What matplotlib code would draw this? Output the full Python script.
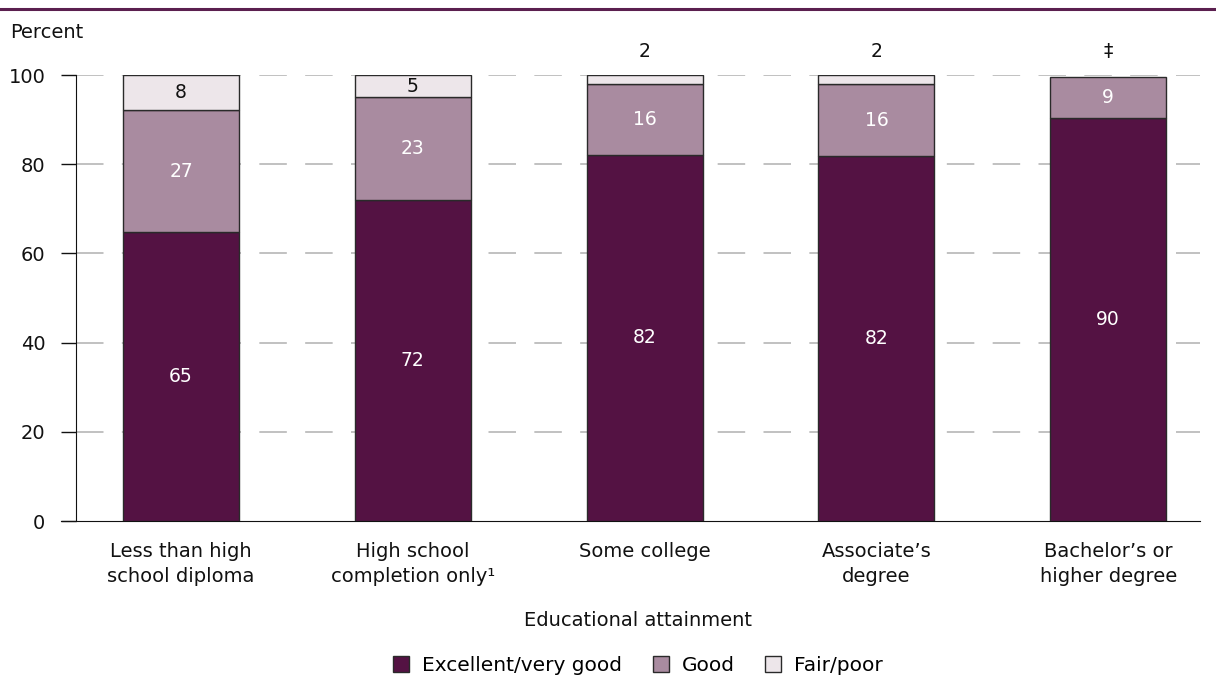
import numpy as np
import matplotlib.pyplot as plt
from matplotlib.lines import Line2D
from matplotlib.patches import Patch

plt.rcParams['font.family'] = ['DejaVu Sans']

categories = ["Less than high\nschool diploma", "High school\ncompletion only\u00b9",
              "Some college", "Associate\u2019s\ndegree", "Bachelor\u2019s or\nhigher degree"]
excellent = [64.8, 71.9, 82.1, 81.9, 90.4]
good = [27.3, 23.1, 15.8, 16.0, 9.2]
fair = [7.9, 5.0, 2.1, 2.1, 0.0]
excellent_lbl = ["65", "72", "82", "82", "90"]
good_lbl = ["27", "23", "16", "16", "9"]
fair_lbl = ["8", "5", "2", "2", "\u2021"]

c_exc = "#541243"
c_good = "#a98ba0"
c_fair = "#ede6ea"
edge = "#2a2a2a"
txt = "#111111"

fig = plt.figure(figsize=(12.16, 6.77), dpi=100)
ax = fig.add_axes([0.0625, 0.2304, 0.9245, 0.6588])

x = np.arange(len(categories))
w = 0.5
ax.bar(x, excellent, w, color=c_exc, edgecolor=edge, linewidth=1, zorder=3)
ax.bar(x, good, w, bottom=excellent, color=c_good, edgecolor=edge, linewidth=1, zorder=3)
bot2 = np.array(excellent) + np.array(good)
for i in range(len(x)):
    if fair[i] > 0:
        ax.bar(x[i], fair[i], w, bottom=bot2[i], color=c_fair, edgecolor=edge,
               linewidth=1, zorder=3)

fs = 14
for i in range(len(x)):
    ax.text(x[i], excellent[i] / 2, excellent_lbl[i], ha="center", va="center",
            color="white", fontsize=13.5, zorder=4)
    ax.text(x[i], excellent[i] + good[i] / 2, good_lbl[i], ha="center", va="center",
            color="white", fontsize=13.5, zorder=4)
    if fair[i] >= 4:
        ax.text(x[i], bot2[i] + fair[i] / 2, fair_lbl[i], ha="center", va="center",
                color=txt, fontsize=13.5, zorder=4)
    else:
        ax.text(x[i], 103.2, fair_lbl[i], ha="center", va="bottom",
                color=txt, fontsize=13.5, zorder=4, clip_on=False)

ax.set_ylim(0, 100)
ax.set_xlim(-0.453, 4.397)
ax.set_yticks([0, 20, 40, 60, 80, 100])
for yv in [20, 40, 60, 80, 100]:
    ax.axhline(yv, color="#b0b0b0", linewidth=1.1, linestyle=(0, (18, 12)), zorder=1)

ax.set_xticks(x)
ax.set_xticklabels(categories, fontsize=fs, color=txt, linespacing=1.4)
ax.tick_params(axis="x", length=0, pad=15)
ax.tick_params(axis="y", length=11, width=1, color=txt, labelsize=fs,
               labelcolor=txt, pad=11)
for s in ["top", "right"]:
    ax.spines[s].set_visible(False)
ax.spines["left"].set_color(txt)
ax.spines["bottom"].set_color(txt)
ax.spines["bottom"].set_bounds(-0.453 - 15 / 231.75, 4.397)
ax.spines["bottom"].set_clip_on(False)

ax.set_xlabel("Educational attainment", fontsize=fs, color=txt, va="center")
ax.xaxis.set_label_coords(0.5, -0.224)
fig.text(0.008, 0.952, "Percent", fontsize=fs, color=txt, va="center")

fig.add_artist(Line2D([0.0, 1.0], [0.987, 0.987], color="#5b1f4f", linewidth=2.2))

handles = [Patch(facecolor=c_exc, edgecolor=edge, linewidth=1, label="Excellent/very good"),
           Patch(facecolor=c_good, edgecolor=edge, linewidth=1, label="Good"),
           Patch(facecolor=c_fair, edgecolor=edge, linewidth=1, label="Fair/poor")]
ax.legend(handles=handles, loc="center", bbox_to_anchor=(0.5, -0.3236),
          ncol=3, frameon=False, fontsize=14.5,
          handlelength=0.8, handleheight=0.8, handletextpad=0.65, columnspacing=1.5,
          borderaxespad=0, borderpad=0)

fig.savefig("out.png", dpi=100)
